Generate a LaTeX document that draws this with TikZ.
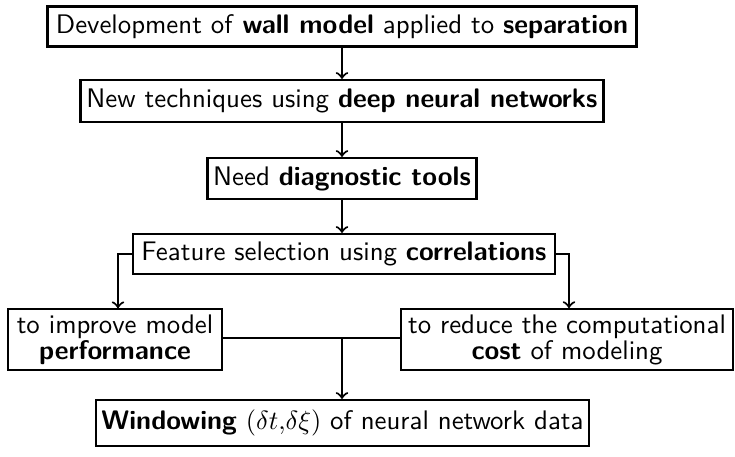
\documentclass[tikz,border=0pt]{standalone}
\usetikzlibrary{calc}
\begin{document}
\begin{tikzpicture}[x=0.38pt,y=-0.38pt,
  box/.style={draw,thick,font={\sffamily\fontsize{10.2pt}{12pt}\selectfont},inner sep=2pt,align=center},
  two/.style={font={\sffamily\fontsize{10.2pt}{9.9pt}\selectfont}},
  conn/.style={thick,->}]
\useasboundingbox (0,0) rectangle (735,457);
\node[box,minimum width=589*0.38pt,minimum height=40*0.38pt] (b1) at (342,26.5) {Development of \textbf{wall model} applied to \textbf{separation}};
\node[box,minimum width=523*0.38pt,minimum height=42*0.38pt] (b2) at (342,101) {New techniques using \textbf{deep neural networks}};
\node[box,minimum width=269*0.38pt,minimum height=41*0.38pt] (b3) at (342,178.5) {Need \textbf{diagnostic tools}};
\node[box,minimum width=422*0.38pt,minimum height=40*0.38pt] (b4) at (344,254) {Feature selection using \textbf{correlations}};
\node[box,two,minimum width=214*0.38pt,minimum height=55*0.38pt] (b5) at (115,339.5) {to improve model\\\textbf{performance}};
\node[box,two,minimum width=332*0.38pt,minimum height=55*0.38pt] (b6) at (567,339.5) {to reduce the computational\\\textbf{cost} of modeling};
\node[box,minimum width=307*0.38pt,minimum height=46*0.38pt] (b7) at (342.5,423) {\textbf{Windowing} $(\delta t{,}\delta\xi)$ of neural network data};
\coordinate (lc) at (118,254);
\coordinate (rc) at (569,254);
\coordinate (mid) at (342,338);
\draw[conn] (b1.south) -- (b2.north);
\draw[conn] (b2.south) -- (b3.north);
\draw[conn] (b3.south) -- (b3.south |- b4.north);
\draw[conn] (b4.west) -- (lc) -- (lc |- b5.north);
\draw[conn] (b4.east) -- (rc) -- (rc |- b6.north);
\draw[thick] (b5.east |- mid) -- (b6.west |- mid);
\draw[conn] (mid) -- (mid |- b7.north);
\end{tikzpicture}
\end{document}
